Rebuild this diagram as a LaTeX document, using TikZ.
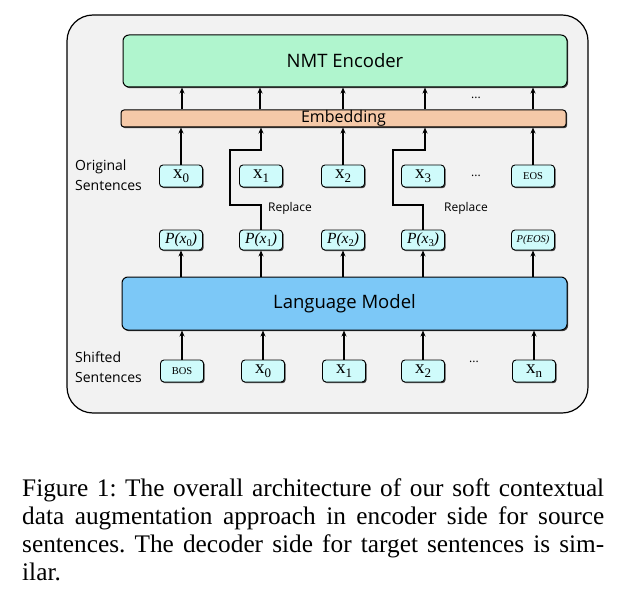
\documentclass[tikz,border=0pt]{standalone}
\usepackage{fontspec}
\setmainfont{Liberation Serif}
\newfontfamily\uifont{Open Sans}
\newfontfamily\mathserif{Liberation Serif}
\usetikzlibrary{shadows,arrows.meta}
\definecolor{framebg}{HTML}{F2F2F2}
\definecolor{encfill}{HTML}{B0F5CE}
\definecolor{embfill}{HTML}{F5C9A8}
\definecolor{lmfill}{HTML}{7CC8F7}
\definecolor{tokfill}{HTML}{CFFBFB}
\tikzset{
  shad/.style={drop shadow={shadow xshift=1.2pt,shadow yshift=-1.2pt,fill=black!75,opacity=1}},
  bigbox/.style={draw,line width=1pt,rounded corners=6pt,shad,inner sep=0pt,font=\uifont\fontsize{18.5}{20}\selectfont},
  tok/.style={draw,line width=0.9pt,rounded corners=3.5pt,fill=tokfill,shad,minimum width=43pt,minimum height=22pt,inner sep=0pt},
  ptok/.style={tok,minimum height=20pt},
  arr/.style={line width=1.6pt,-{Stealth[length=6pt,width=5pt]}},
  lab/.style={font=\uifont\fontsize{14}{20}\selectfont,align=left,anchor=west,inner sep=0pt},
  rep/.style={font=\uifont\fontsize{12}{13}\selectfont,inner sep=0pt},
}
\newcommand{\xt}[1]{\mathserif\fontsize{19}{20}\selectfont x\raisebox{-4pt}{\fontsize{13}{14}\selectfont #1}}
\newcommand{\pt}[1]{\mathserif\fontsize{15.5}{16}\selectfont\itshape P(x\raisebox{-3pt}{\fontsize{10.5}{11}\selectfont\upshape #1})}
\begin{document}
\begin{tikzpicture}[x=1pt,y=-1pt]
\useasboundingbox (0,0) rectangle (628,612);
\draw[line width=1.2pt,fill=framebg,rounded corners=26pt] (67,15) rectangle (588,413);

% big boxes
\node[bigbox,fill=encfill,minimum width=444pt,minimum height=52pt] (enc) at (345,61) {NMT Encoder};
\node[bigbox,fill=embfill,rounded corners=3pt,minimum width=445pt,minimum height=17pt,font=\uifont\fontsize{16}{17}\selectfont] (emb) at (343.5,118.5) {\raisebox{-1.5pt}{Embedding}};
\node[bigbox,fill=lmfill,minimum width=445pt,minimum height=53pt] (lm) at (344.5,303.5) {Language Model};

% original tokens
\node[tok] (x0) at (181,176) {\xt{0}};
\node[tok] (x1) at (261,176) {\xt{1}};
\node[tok] (x2) at (343,176) {\xt{2}};
\node[tok] (x3) at (423,176) {\xt{3}};
\node[tok,font=\mathserif\fontsize{10.5}{11}\selectfont] (eos) at (533,176) {EOS};

% probability tokens
\node[ptok] (p0) at (181,240) {\pt{0}};
\node[ptok] (p1) at (261,240) {\pt{1}};
\node[ptok] (p2) at (343,240) {\pt{2}};
\node[ptok] (p3) at (423,240) {\pt{3}};
\node[ptok,font=\mathserif\fontsize{10.5}{11}\selectfont\itshape] (peos) at (533,240) {P(EOS)};

% shifted tokens
\node[tok,font=\mathserif\fontsize{10.5}{11}\selectfont] (bos) at (182,371) {BOS};
\node[tok] (s0) at (263,371) {\xt{0}};
\node[tok] (s1) at (344,371) {\xt{1}};
\node[tok] (s2) at (423,371) {\xt{2}};
\node[tok] (sn) at (534,371) {\xt{n}};

% labels
\node[lab] (lo) at (75,175) {Original\\Sentences};
\node[lab] (ls) at (75,367) {Shifted\\Sentences};
\node[rep] (r1) at (290,208) {Replace};
\node[rep] (r3) at (466,208) {Replace};
\node[rep] (d1) at (476,98) {...};
\node[rep] (d2) at (476,176) {...};
\node[rep] (d3) at (474,362) {...};

% embedding -> encoder
\foreach \xx in {182,260,343,425,533}
  \draw[arr] (emb.north -| \xx,0) -- (enc.south -| \xx,0);

% tokens -> embedding
\draw[arr] (x0.north) -- (emb.south -| x0.north);
\draw[arr] (x2.north) -- (emb.south -| x2.north);
\draw[arr] (eos.north) -- (emb.south -| eos.north);

% replace paths
\coordinate (c1) at (261,150);
\coordinate (c3) at (425,150);
\draw[arr] (p1.north) -- (261,205) -- (230,205) -- (230,150) -- (c1) -- (emb.south -| c1);
\draw[arr] (p3.north) -- (423,205) -- (393,205) -- (393,150) -- (c3) -- (emb.south -| c3);

% LM -> P
\foreach \n in {p0,p1,p2,p3,peos}
  \draw[arr] (lm.north -| \n.south) -- (\n.south);

% shifted -> LM
\foreach \n in {bos,s0,s1,s2,sn}
  \draw[arr] (\n.north) -- (lm.south -| \n.north);

% caption
\node[anchor=north west,inner sep=0pt,text width=582pt,align=justify,font=\fontsize{25.3}{28}\selectfont\frenchspacing] (cap) at (22,478)
{Figure 1: The overall architecture of our soft contextual\linebreak
data augmentation approach in encoder side for source\linebreak
sentences. The decoder side for target sentences is sim-\linebreak
ilar.};
\end{tikzpicture}
\end{document}
